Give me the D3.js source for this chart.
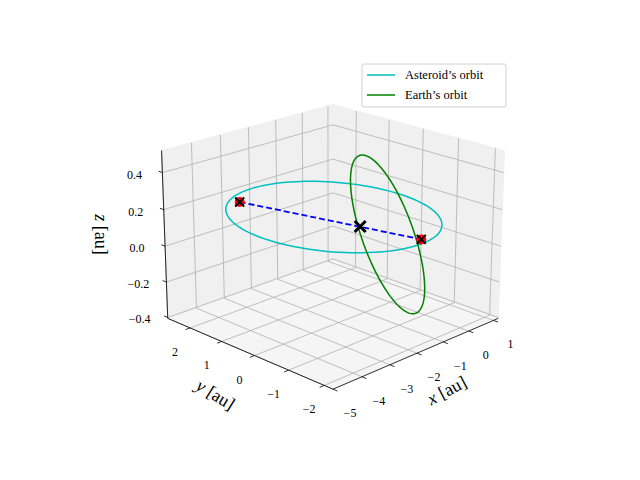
<!DOCTYPE html>
<html>
<head>
<meta charset="utf-8">
<script src="https://cdn.jsdelivr.net/npm/d3@7"></script>
<style>
  body { margin: 0; background: #fff; }
  text { font-family: "Liberation Serif", "DejaVu Serif", serif; fill: #000; }
</style>
</head>
<body>
<div id="chart"></div>
<script>
// axis ranges and ticks
const xDomain = [-5.0, 1.2];
const yDomain = [-2.24, 2.73];
const zDomain = [-0.405, 0.517];
const xTicks = [-5, -4, -3, -2, -1, 0, 1];
const yTicks = [-2, -1, 0, 1, 2];
const zTicks = [-0.4, -0.2, 0.0, 0.2, 0.4];

// orbits: centre, first axis, second axis (au)
const asteroidCentre = [-2.2, 0.02, 0.2];
const asteroidAxisA = [2.45, 0, 0];
const asteroidAxisB = [0, 2.45, 0];
const earthCentre = [-0.07, 0.06, -0.02];
const earthAxisA = [0.15, -0.75, 0];
const earthAxisB = [-0.18, 0.56, 0.42];

// marked positions
const endPoints = [[-3.0, 2.16, 0.18], [-1.74, -2.11, 0.18]];
const midPoint = [[-2.13, -0.72, 0.18]];

const W = 640, H = 480;
const svg = d3.select('#chart').append('svg').attr('width', W).attr('height', H);

// 3d view
const elev = 20 * Math.PI / 180, azim = -135 * Math.PI / 180;
const dist = 7, scale = 238, cx = 333, cy = 236;
const x = d3.scaleLinear().domain(xDomain).range([-0.5, 0.5]);
const y = d3.scaleLinear().domain(yDomain).range([-0.5, 0.5]);
const z = d3.scaleLinear().domain(zDomain).range([-0.375, 0.375]);
const eye = [Math.cos(elev) * Math.cos(azim), Math.cos(elev) * Math.sin(azim), Math.sin(elev)];
const right = [-Math.sin(azim), Math.cos(azim), 0];
const up = [-Math.sin(elev) * Math.cos(azim), -Math.sin(elev) * Math.sin(azim), Math.cos(elev)];

function proj(p) {
    const u = [x(p[0]), y(p[1]), z(p[2])];
    const dot = v => u[0] * v[0] + u[1] * v[1] + u[2] * v[2];
    const f = dist / (dist - dot(eye));
    return [cx + scale * dot(right) * f, cy - scale * dot(up) * f];
}
const line = d3.line().x(d => proj(d)[0]).y(d => proj(d)[1]);

// panes: y = ymax (left), x = xmax (right), z = zmin (floor)
const [x0, x1] = xDomain, [y0, y1] = yDomain, [z0, z1] = zDomain;
const panes = [
    [[x0, y1, z0], [x1, y1, z0], [x1, y1, z1], [x0, y1, z1]],
    [[x1, y0, z0], [x1, y1, z0], [x1, y1, z1], [x1, y0, z1]],
    [[x0, y0, z0], [x1, y0, z0], [x1, y1, z0], [x0, y1, z0]]
];
svg.selectAll('.pane').data(panes).join('path')
    .attr('d', d => line(d) + 'Z')
    .attr('fill', (d, i) => i === 2 ? '#f5f5f5' : '#f0f0f0')
    .attr('stroke', '#f0f0f0');

// grid lines
const grid = [];
xTicks.forEach(t => { grid.push([[t, y1, z0], [t, y1, z1]]); grid.push([[t, y0, z0], [t, y1, z0]]); });
yTicks.forEach(t => { grid.push([[x1, t, z0], [x1, t, z1]]); grid.push([[x0, t, z0], [x1, t, z0]]); });
zTicks.forEach(t => { grid.push([[x0, y1, t], [x1, y1, t]]); grid.push([[x1, y0, t], [x1, y1, t]]); });
svg.selectAll('.grid').data(grid).join('path')
    .attr('d', line).attr('fill', 'none')
    .attr('stroke', '#b0b0b0').attr('stroke-width', 0.8);

// axis lines and ticks
const axisG = svg.append('g').attr('stroke', '#000').attr('fill', 'none');
axisG.append('path').attr('d', line([[x0, y0, z0], [x1, y0, z0]])).attr('stroke-width', 0.8);
axisG.append('path').attr('d', line([[x0, y0, z0], [x0, y1, z0]])).attr('stroke-width', 0.8);
axisG.append('path').attr('d', line([[x0, y1, z0], [x0, y1, z1]])).attr('stroke-width', 0.8);

const dy = (y1 - y0), dx = (x1 - x0);
function tickLabel(p, q, text, off) {
    const a = proj(p), b = proj(q);
    axisG.append('line').attr('x1', a[0]).attr('y1', a[1]).attr('x2', b[0]).attr('y2', b[1]).attr('stroke-width', 0.8);
    svg.append('text').attr('x', a[0] + off[0]).attr('y', a[1] + off[1] + 4)
        .attr('text-anchor', 'middle').attr('font-size', 12).text(text);
}
const fmt = v => (v < 0 ? '\u2212' : '') + Math.abs(v);
const fmtZ = v => (v < 0 ? '\u2212' : '') + Math.abs(v).toFixed(1);
xTicks.forEach(t => tickLabel([t, y0, z0], [t, y0 - dy * 0.025, z0], fmt(t), [17, 24]));
yTicks.forEach(t => tickLabel([x0, t, z0], [x0 - dx * 0.025, t, z0], fmt(t), [-15, 24]));
zTicks.forEach(t => tickLabel([x0, y1, t], [x0, y1 + dy * 0.025, t], fmtZ(t), [-28, 2]));

// axis labels
function axisLabel(p, q, off, angle, parts) {
    const a = proj(p), b = proj(q);
    const c = [(a[0] + b[0]) / 2 + off[0], (a[1] + b[1]) / 2 + off[1]];
    const t = svg.append('text').attr('transform', `translate(${c[0]},${c[1]}) rotate(${angle})`)
        .attr('text-anchor', 'middle').attr('font-size', 18);
    t.append('tspan').attr('font-style', 'italic').text(parts[0]);
    t.append('tspan').text(' ' + parts[1]);
}
axisLabel([x0, y0, z0], [x1, y0, z0], [34, 42], -28, ['x', '[au]']);
axisLabel([x0, y0, z0], [x0, y1, z0], [-38, 46], 32, ['y', '[au]']);
axisLabel([x0, y1, z0], [x0, y1, z1], [-70, 0], 90, ['z', '[au]']);

// orbits
const ts = d3.range(0, 361, 3).map(d => d * Math.PI / 180);
const orbit = (c, a, b) => ts.map(t => c.map((v, k) => v + Math.cos(t) * a[k] + Math.sin(t) * b[k]));
svg.append('path').attr('d', line(orbit(asteroidCentre, asteroidAxisA, asteroidAxisB)))
    .attr('fill', 'none').attr('stroke', '#00bfbf').attr('stroke-width', 1.5);
svg.append('path').attr('d', line(orbit(earthCentre, earthAxisA, earthAxisB)))
    .attr('fill', 'none').attr('stroke', '#008000').attr('stroke-width', 1.5);

// dashed connection and markers
svg.append('path').attr('d', line(endPoints))
    .attr('fill', 'none').attr('stroke', '#0000ff').attr('stroke-width', 1.8).attr('stroke-dasharray', '6,3');
function cross(g, p, s, w) {
    const c = proj(p);
    g.append('path').attr('d', `M${c[0] - s},${c[1] - s}L${c[0] + s},${c[1] + s}M${c[0] - s},${c[1] + s}L${c[0] + s},${c[1] - s}`)
        .attr('stroke', '#000').attr('stroke-width', w);
}
const mk = svg.append('g');
endPoints.forEach(p => {
    const c = proj(p);
    mk.append('circle').attr('cx', c[0]).attr('cy', c[1]).attr('r', 5).attr('fill', '#ff0000');
    cross(mk, p, 4.5, 2);
});
midPoint.forEach(p => cross(mk, p, 5.5, 3));

// legend
const leg = svg.append('g').attr('transform', 'translate(362,64)');
leg.append('rect').attr('width', 144).attr('height', 43).attr('rx', 2)
    .attr('fill', '#fff').attr('fill-opacity', 0.8).attr('stroke', '#d0d0d0');
const legendData = [{ label: 'Asteroid\u2019s orbit', color: '#00bfbf' }, { label: 'Earth\u2019s orbit', color: '#008000' }];
legendData.forEach((d, i) => {
    leg.append('line').attr('x1', 5).attr('x2', 33).attr('y1', 11 + i * 20).attr('y2', 11 + i * 20)
        .attr('stroke', d.color).attr('stroke-width', 1.5);
    leg.append('text').attr('x', 43).attr('y', 15 + i * 20).attr('font-size', 12.5).text(d.label);
});
</script>
</body>
</html>
